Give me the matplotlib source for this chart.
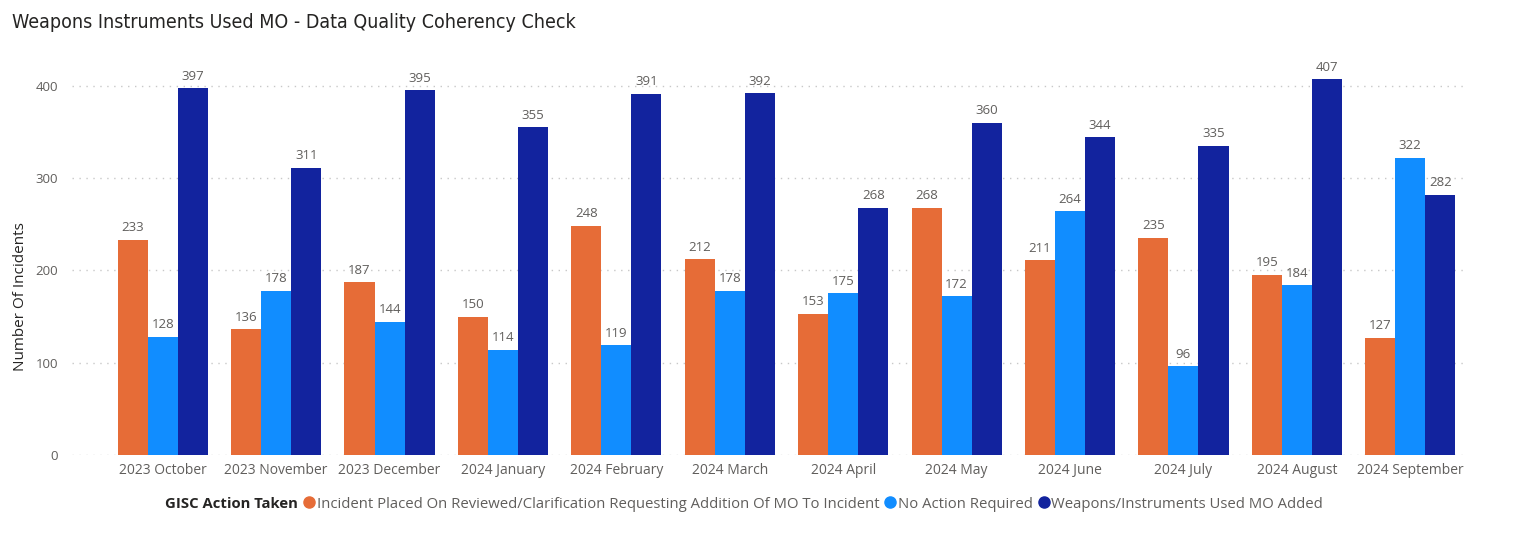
import matplotlib
matplotlib.use("Agg")
import matplotlib.pyplot as plt
import numpy as np
from matplotlib.lines import Line2D

categories = ["2023 October", "2023 November", "2023 December", "2024 January",
              "2024 February", "2024 March", "2024 April", "2024 May", "2024 June",
              "2024 July", "2024 August", "2024 September"]
series_names = ["Incident Placed On Reviewed/Clarification Requesting Addition Of MO To Incident",
                "No Action Required",
                "Weapons/Instruments Used MO Added"]
incident_placed = [233, 136, 187, 150, 248, 212, 153, 268, 211, 235, 195, 127]
no_action = [128, 178, 144, 114, 119, 178, 175, 172, 264, 96, 184, 322]
mo_added = [397, 311, 395, 355, 391, 392, 268, 360, 344, 335, 407, 282]
yticks = [0, 100, 200, 300, 400]

colors = ["#E66C37", "#118DFF", "#12239E"]
grey = "#605E5C"
FONT = "Open Sans"

W, H = 1518, 542
fig = plt.figure(figsize=(W / 100, H / 100), dpi=100)
ax = fig.add_axes([72 / W, 1 - 455 / H, (1467 - 72) / W, (455 - 58) / H])

x = np.arange(len(categories))
bw = 0.265
for i, (vals, c, name) in enumerate(zip([incident_placed, no_action, mo_added], colors, series_names)):
    bars = ax.bar(x + (i - 1) * bw, vals, width=bw, color=c, label=name, zorder=3)
    for b, v in zip(bars, vals):
        ax.annotate(str(v), (b.get_x() + b.get_width() / 2, v), xytext=(0, 4),
                    textcoords="offset points", ha="center", va="bottom",
                    fontsize=9.5, color=grey, family=FONT)

ax.set_xlim(-0.80, 11.5)
ax.set_ylim(0, 430)
ax.set_yticks(yticks)
ax.set_xticks(x)
ax.set_xticklabels(categories, fontsize=10, color=grey, family=FONT)
for t in ax.get_yticklabels():
    t.set_fontsize(9.5)
    t.set_color(grey)
    t.set_family(FONT)
ax.tick_params(axis="both", length=0, pad=6)
ax.tick_params(axis="y", pad=10)
ax.grid(axis="y", linestyle=(0, (1, 4)), color="#C8C8C8", linewidth=1, zorder=0)
for s in ax.spines.values():
    s.set_visible(False)

ax.set_ylabel("Number Of Incidents", fontsize=11, color="#252423", family=FONT)
ax.yaxis.set_label_coords(-0.0315, 0.40)

fig.text(12 / W, 1 - 22 / H, "Weapons Instruments Used MO - Data Quality Coherency Check",
         fontsize=14, color="#252423", family="DejaVu Sans", va="center", ha="left",
         fontstretch="condensed")

handles = [Line2D([], [], linestyle="none")] + [
    Line2D([], [], linestyle="none", marker="o", markersize=8, color=c) for c in colors]
labels = ["GISC Action Taken"] + series_names
leg = fig.legend(handles, labels, loc="center left", bbox_to_anchor=(140 / W, 1 - 504 / H),
                 ncol=4, frameon=False, handlelength=0.55, handletextpad=0.25,
                 columnspacing=0.45, prop={"family": FONT, "size": 10.7})
for t in leg.get_texts():
    t.set_color(grey)
leg.get_texts()[0].set_fontweight("bold")
leg.get_texts()[0].set_color("#252423")

fig.savefig("out.png", dpi=100)
